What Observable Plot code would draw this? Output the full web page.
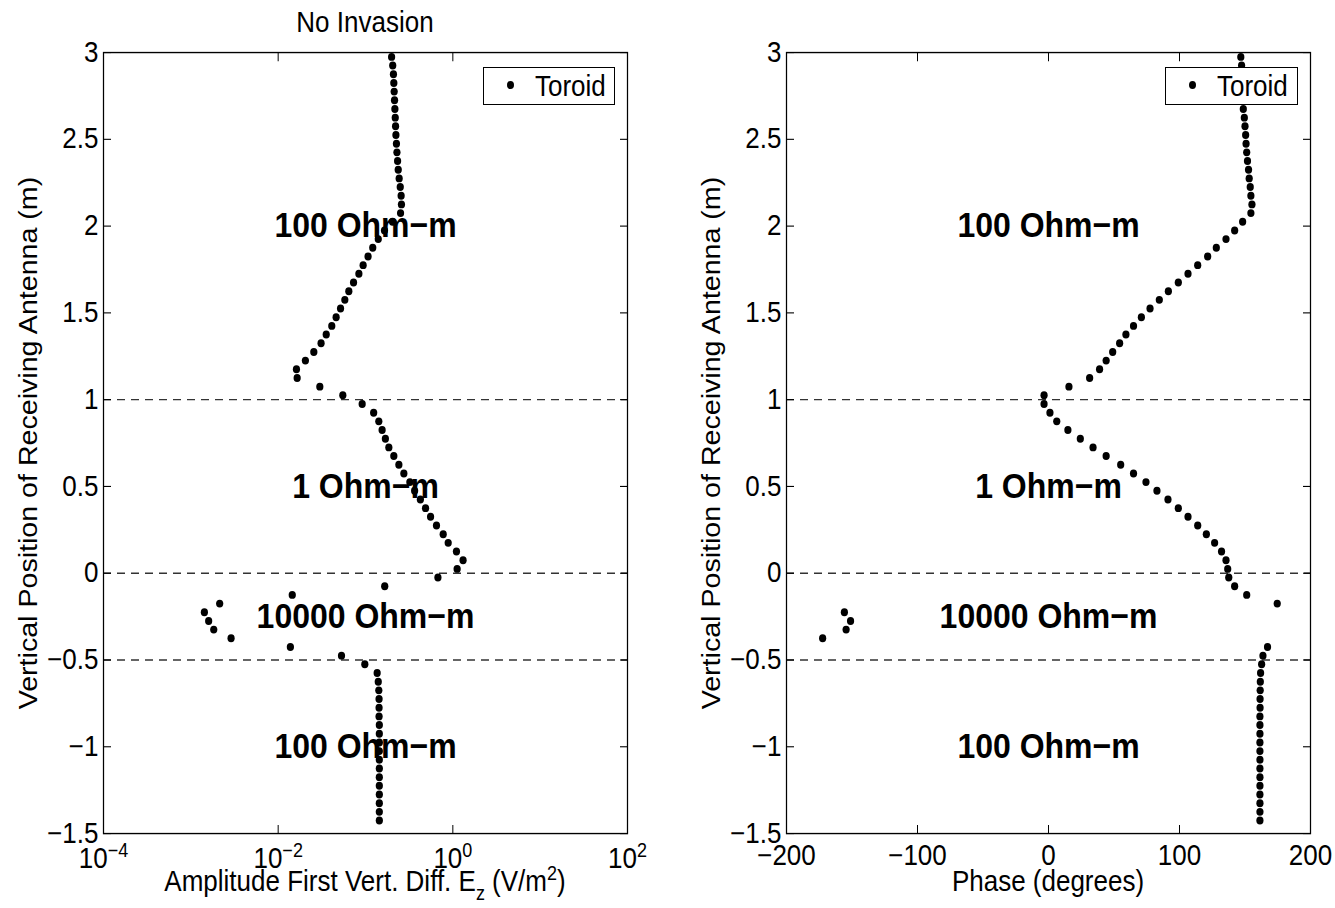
<!DOCTYPE html>
<html><head><meta charset="utf-8">
<script src="https://cdn.jsdelivr.net/npm/d3@7"></script>
<script src="https://cdn.jsdelivr.net/npm/@observablehq/plot@0.6"></script>
<style>
body{margin:0;background:#fff;}
#wrap{position:relative;width:1335px;height:908px;background:#fff;font-family:"Liberation Sans",Arial,Helvetica,sans-serif;overflow:hidden;}
#left{position:absolute;left:0;top:0;width:660px;}
#right{position:absolute;left:660px;top:0;width:675px;}
#left svg,#right svg{transform:scaleY(1.1);transform-origin:0 0;}
.legend{position:absolute;box-sizing:border-box;height:38px;border:1.3px solid #000;background:#fff;font-size:26px;color:#000;}
.legend .dot{position:absolute;left:23px;top:13px;width:7px;height:8px;border-radius:50%;background:#000;}
.legend .lab{position:absolute;left:51px;top:6px;line-height:26px;white-space:nowrap;transform:scaleY(1.1);transform-origin:0 22px;}
</style></head>
<body>
<div id="wrap">
  <div id="left"></div>
  <div id="right"></div>
  <div class="legend" style="left:483px;top:67px;width:132px;"><span class="dot"></span><span class="lab">Toroid</span></div>
  <div class="legend" style="left:1165px;top:67px;width:133px;"><span class="dot"></span><span class="lab">Toroid</span></div>
</div>
<script>
// receiver positions (m)
const positions = [
  2.975, 2.925, 2.875, 2.825, 2.775, 2.725, 2.675, 2.625, 2.575, 2.525,
  2.475, 2.425, 2.375, 2.325, 2.275, 2.225, 2.175, 2.125, 2.075, 2.025,
  1.975, 1.925, 1.875, 1.825, 1.775, 1.725, 1.675, 1.625, 1.575, 1.525,
  1.475, 1.425, 1.375, 1.325, 1.275, 1.225, 1.175, 1.125, 1.075, 1.025,
  0.975, 0.925, 0.875, 0.825, 0.775, 0.725, 0.675, 0.625, 0.575, 0.525,
  0.475, 0.425, 0.375, 0.325, 0.275, 0.225, 0.175, 0.125, 0.075, 0.025,
  -0.025, -0.075, -0.125, -0.175, -0.225, -0.275, -0.325, -0.375, -0.425, -0.475,
  -0.525, -0.575, -0.625, -0.675, -0.725, -0.775, -0.825, -0.875, -0.925, -0.975,
  -1.025, -1.075, -1.125, -1.175, -1.225, -1.275, -1.325, -1.375, -1.425
];
// amplitude of first vertical difference of Ez (V/m^2)
const amplitude = [
  0.199, 0.205, 0.209, 0.211, 0.213, 0.215, 0.217, 0.219, 0.221, 0.223,
  0.226, 0.229, 0.233, 0.237, 0.243, 0.250, 0.256, 0.258, 0.252, 0.204,
  0.165, 0.140, 0.121, 0.107, 0.094, 0.084, 0.073, 0.0644, 0.058, 0.0518,
  0.0461, 0.0411, 0.0355, 0.0310, 0.0256, 0.0205, 0.0162, 0.0165, 0.0300, 0.0550,
  0.0916, 0.124, 0.142, 0.155, 0.169, 0.185, 0.211, 0.241, 0.275, 0.322,
  0.365, 0.425, 0.487, 0.556, 0.650, 0.776, 0.885, 1.10, 1.31, 1.12,
  0.675, 0.166, 0.0145, 0.00214, 0.00143, 0.00160, 0.00183, 0.00289, 0.0138, 0.0531,
  0.0982, 0.136, 0.140, 0.142, 0.143, 0.143, 0.143, 0.144, 0.144, 0.144,
  0.144, 0.144, 0.144, 0.144, 0.144, 0.144, 0.144, 0.144, 0.144
];
// phase (degrees)
const phase = [
  146.8, 147.4, 147.7, 148.0, 148.2, 148.5, 148.7, 149.5, 150.0, 150.5,
  150.8, 151.3, 151.9, 152.7, 153.2, 154.0, 154.5, 155.3, 154.5, 148.2,
  142.1, 135.5, 128.1, 121.5, 113.9, 106.5, 99.1, 91.5, 84.6, 77.5,
  70.9, 64.9, 59.1, 54.3, 49.0, 44.0, 39.0, 31.4, 15.6, -3.4,
  -3.4, 1.1, 6.3, 14.8, 24.3, 34.0, 44.0, 55.1, 64.9, 74.4,
  82.8, 91.2, 99.1, 106.5, 113.9, 120.5, 126.8, 132.1, 135.5, 136.8,
  137.6, 142.1, 151.3, 174.6, -155.8, -151.1, -154.5, -172.4, 167.2, 163.7,
  162.7, 161.9, 161.7, 161.6, 161.5, 161.5, 161.4, 161.4, 161.4, 161.4,
  161.4, 161.4, 161.4, 161.4, 161.4, 161.4, 161.4, 161.4, 161.4
];
const boundaries = [1, 0, -0.5];
const layerNames = ["100 Ohm\u2212m", "1 Ohm\u2212m", "10000 Ohm\u2212m", "100 Ohm\u2212m"];
const layerCenters = [2, 0.5, -0.25, -1];
const yTicks = [-1.5, -1, -0.5, 0, 0.5, 1, 1.5, 2, 2.5, 3];
const ampTicks = [1e-4, 1e-2, 1, 1e2];
const phaseTicks = [-200, -100, 0, 100, 200];
const yLabel = "Vertical Position of Receiving Antenna (m)";
const titleText = "No Invasion";
const seriesName = "Toroid";

// the figure is drawn in unstretched units, then stretched vertically by SY
const SY = 1.1;
const H = 908 / SY;
const FONT = '"Liberation Sans", Arial, Helvetica, sans-serif';
const signed = d => d < 0 ? "\u2212" + Math.abs(d) : String(d);

function panel({xScale, xTicks, xFormat, values, width, marginLeft, marginRight, tickPad}) {
  const pts = positions.map((y, i) => ({x: values[i], y}));
  const layers = layerNames.map((name, i) => ({name, y: layerCenters[i]}));
  return Plot.plot({
    width, height: H, marginLeft, marginRight, marginTop: 52 / SY, marginBottom: (908 - 833) / SY,
    style: {fontSize: "26px", fontFamily: FONT, color: "#000", background: "transparent", overflow: "visible"},
    x: xScale,
    y: {domain: [-1.5, 3]},
    marks: [
      Plot.ruleY(boundaries, {stroke: "#333", strokeWidth: 1.2, strokeDasharray: "8,6"}),
      Plot.text(layers, {y: "y", text: "name", frameAnchor: "middle", fontWeight: "bold", fontSize: 32, fill: "#000"}),
      Plot.dot(pts, {x: "x", y: "y", r: 3.6, fill: "#000", stroke: "none"}),
      Plot.frame({stroke: "#000", strokeWidth: 1.25}),
      Plot.axisX(xTicks, {anchor: "bottom", tickSize: -7.3, tickPadding: tickPad, tickFormat: xFormat, label: null}),
      Plot.axisX(xTicks, {anchor: "top", tickSize: -7.3, tickFormat: () => "", label: null}),
      Plot.axisY(yTicks, {anchor: "left", tickSize: -8, tickPadding: 13, tickFormat: signed,
        label: yLabel, labelAnchor: "center", labelOffset: 85, labelArrow: "none"}),
      Plot.axisY(yTicks, {anchor: "right", tickSize: -8, tickFormat: () => "", label: null})
    ]
  });
}

const left = panel({
  xScale: {type: "log", domain: [1e-4, 1e2]},
  xTicks: ampTicks,
  xFormat: d => "10^" + Math.round(Math.log10(d)),
  values: amplitude, width: 660, marginLeft: 103, marginRight: 33, tickPad: 20.5
});
const right = panel({
  xScale: {domain: [-200, 200]},
  xTicks: phaseTicks,
  xFormat: signed,
  values: phase, width: 675, marginLeft: 126, marginRight: 25, tickPad: 17
});
document.getElementById("left").appendChild(left);
document.getElementById("right").appendChild(right);

// superscript exponents on the log-axis tick labels
d3.select(left).selectAll('[aria-label="x-axis tick label"] text').each(function() {
  const s = this.textContent;
  if (!s.includes("^")) return;
  const [b, e] = s.split("^");
  const t = d3.select(this);
  t.text(b);
  t.append("tspan").attr("dy", -10).attr("font-size", 18).text(e.replace("-", "\u2212"));
});

// title and x-axis labels
const L = d3.select(left);
L.append("text").attr("x", 365).attr("y", 32 / SY).attr("text-anchor", "middle")
  .attr("font-size", 26).attr("fill", "#000").text(titleText);
const xl = L.append("text").attr("x", 365).attr("y", 891 / SY).attr("text-anchor", "middle")
  .attr("font-size", 26).attr("fill", "#000");
xl.append("tspan").text("Amplitude First Vert. Diff. E");
xl.append("tspan").attr("font-size", 18).attr("dy", 8).text("z");
xl.append("tspan").attr("dy", -8).text(" (V/m");
xl.append("tspan").attr("font-size", 18).attr("dy", -10).text("2");
xl.append("tspan").attr("dy", 10).text(")");

d3.select(right).append("text").attr("x", 388).attr("y", 891 / SY).attr("text-anchor", "middle")
  .attr("font-size", 26).attr("fill", "#000").text("Phase (degrees)");

document.querySelectorAll(".legend .lab").forEach(el => el.textContent = seriesName);
</script>
</body></html>
